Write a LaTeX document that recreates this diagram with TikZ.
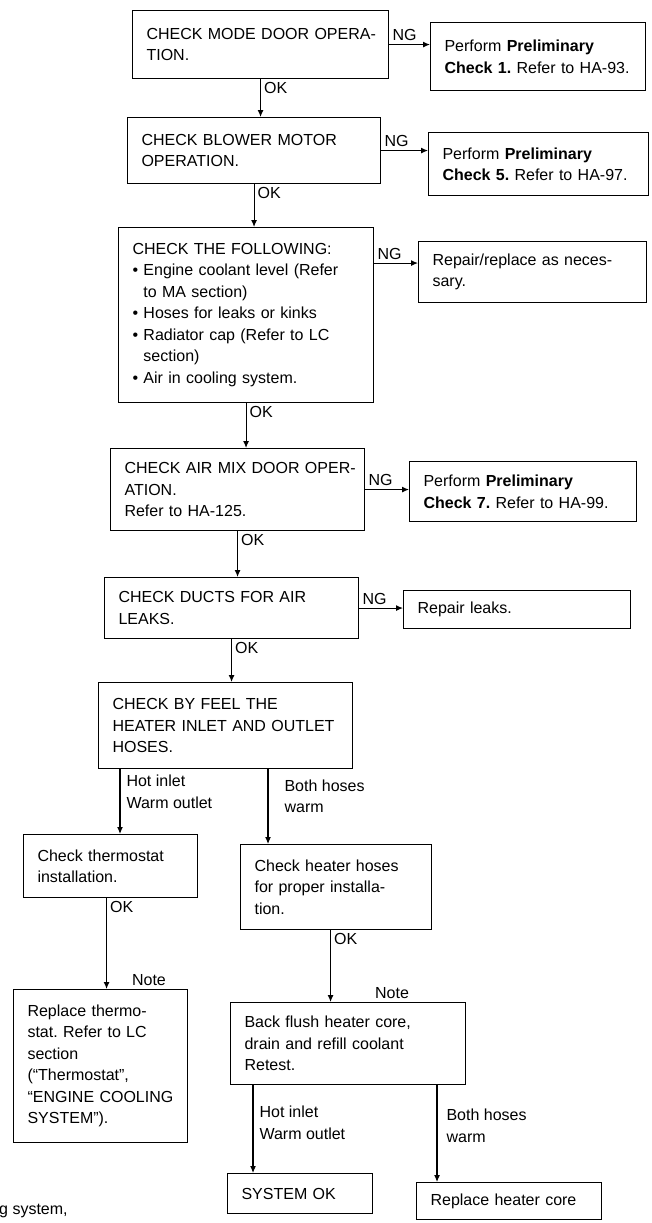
\documentclass[tikz,border=0pt]{standalone}
\usepackage{fontspec}
\setmainfont{Liberation Sans}
\usetikzlibrary{arrows.meta,positioning}
\frenchspacing
\newcommand{\itm}{\textbullet\ }
\newcommand{\hng}{\hphantom{\textbullet\ }}

\begin{document}
\begin{tikzpicture}[x=1pt,y=-1pt,
    every node/.style={font=\fontsize{16}{21.5}\selectfont},
    chk/.style={draw,line width=1.1pt,anchor=north west,align=left,inner xsep=1pt,inner ysep=4pt,
      execute at begin node={\leftskip=13pt}},
    lnk/.style={line width=1.1pt,-{Latex[length=7pt,width=6pt]}},
    tag/.style={inner sep=3pt,align=left}]
  \useasboundingbox (0,0) rectangle (651,1223);
  % main column
  \node[chk,text width=254pt,minimum height=68pt] (b1) at (132,10) {CHECK MODE DOOR OPERA-\\TION.};
  \node[chk,text width=251pt,minimum height=66pt] (b2) at (127,117) {CHECK BLOWER MOTOR\\OPERATION.};
  \node[chk,text width=253pt,minimum height=175pt] (b3) at (118,227) {CHECK THE FOLLOWING:\\
    \itm Engine coolant level (Refer\\ \hng to MA section)\\
    \itm Hoses for leaks or kinks\\
    \itm Radiator cap (Refer to LC\\ \hng section)\\
    \itm Air in cooling system.};
  \node[chk,text width=252pt,minimum height=82pt] (b4) at (110,448) {CHECK AIR MIX DOOR OPER-\\ATION.\\Refer to HA-125.};
  \node[chk,text width=252pt,minimum height=61pt] (b5) at (104,577) {CHECK DUCTS FOR AIR\\LEAKS.};
  \node[chk,text width=252pt,minimum height=86pt] (b6) at (98,682) {CHECK BY FEEL THE\\HEATER INLET AND OUTLET\\HOSES.};
  % NG side
  \node[chk,text width=213pt,minimum height=68pt] (n1) at (430,22) {Perform \textbf{Preliminary}\\\textbf{Check 1.} Refer to HA-93.};
  \node[chk,text width=218pt,minimum height=63pt] (n2) at (428,132) {Perform \textbf{Preliminary}\\\textbf{Check 5.} Refer to HA-97.};
  \node[chk,text width=226pt,minimum height=61pt] (n3) at (418,241) {Repair/replace as neces-\\sary.};
  \node[chk,text width=225pt,minimum height=60pt] (n4) at (409,461) {Perform \textbf{Preliminary}\\\textbf{Check 7.} Refer to HA-99.};
  \node[chk,text width=225pt,minimum height=38pt] (n5) at (403,590) {Repair leaks.};
  % lower branches
  \node[chk,text width=172pt,minimum height=63pt] (b7) at (23,834) {Check thermostat\\installation.};
  \node[chk,text width=189pt,minimum height=85pt] (b8) at (240,844) {Check heater hoses\\for proper installa-\\tion.};
  \node[chk,text width=172pt,minimum height=153pt] (b9) at (13,989) {Replace thermo-\\stat. Refer to LC\\section\\(``Thermostat'',\\``ENGINE COOLING\\SYSTEM'').};
  \node[chk,text width=233pt,minimum height=82pt] (b10) at (230,1002) {Back flush heater core,\\drain and refill coolant\\Retest.};
  \node[chk,text width=143pt,minimum height=40pt] (b11) at (227,1173) {SYSTEM OK};
  \node[chk,text width=183pt,minimum height=37pt] (b12) at (416,1182) {Replace heater core};
  \node[tag,anchor=base west] (frag) at (-4,1214) {g system,};

  \draw[lnk] (b1.south) -- (b1.south |- b2.north) node[tag,pos=0,anchor=north west] {OK};
  \draw[lnk] (b2.south) -- (b2.south |- b3.north) node[tag,pos=0,anchor=north west] {OK};
  \draw[lnk] (b3.south) -- (b3.south |- b4.north) node[tag,pos=0,anchor=north west] {OK};
  \draw[lnk] (b4.south) -- (b4.south |- b5.north) node[tag,pos=0,anchor=north west] {OK};
  \draw[lnk] (b5.south) -- (b5.south |- b6.north) node[tag,pos=0,anchor=north west] {OK};

  \draw[lnk] (b1.east) -- (b1.east -| n1.west) node[tag,pos=0,anchor=south west] {NG};
  \draw[lnk] (b2.east) -- (b2.east -| n2.west) node[tag,pos=0,anchor=south west] {NG};
  \draw[lnk] ([yshift=9pt]n3.west -| b3.east) -- ([yshift=9pt]n3.west) node[tag,pos=0,anchor=south west] {NG};
  \draw[lnk] (b4.east) -- (b4.east -| n4.west) node[tag,pos=0,anchor=south west] {NG};
  \draw[lnk] (b5.east) -- (b5.east -| n5.west) node[tag,pos=0,anchor=south west] {NG};

  \coordinate (h1) at ([xshift=22pt]b6.south west);
  \coordinate (h2) at ([xshift=170pt]b6.south west);
  \draw[lnk] (h1) -- (h1 |- b7.north) node[tag,pos=0.35,anchor=west,xshift=3pt] {Hot inlet\\Warm outlet};
  \draw[lnk] (h2) -- (h2 |- b8.north) node[tag,pos=0.36,anchor=west,xshift=13pt] {Both hoses\\warm};

  \coordinate (k1) at ([xshift=-4pt]b7.south);
  \coordinate (k2) at ([xshift=-5.5pt]b8.south);
  \draw[lnk] (k1) -- (k1 |- b9.north) node[tag,pos=0,anchor=north west] {OK}
    node[tag,pos=1,anchor=south west,xshift=22pt] {Note};
  \draw[lnk] (k2) -- (k2 |- b10.north) node[tag,pos=0,anchor=north west] {OK}
    node[tag,pos=1,anchor=south west,xshift=41pt] {Note};

  \coordinate (m1) at ([xshift=23pt]b10.south west);
  \coordinate (m2) at ([xshift=207pt]b10.south west);
  \draw[lnk] (m1) -- (m1 |- b11.north) node[tag,pos=0.43,anchor=west,xshift=3pt] {Hot inlet\\Warm outlet};
  \draw[lnk] (m2) -- (m2 |- b12.north) node[tag,pos=0.42,anchor=west,xshift=6pt] {Both hoses\\warm};
\end{tikzpicture}
\end{document}
